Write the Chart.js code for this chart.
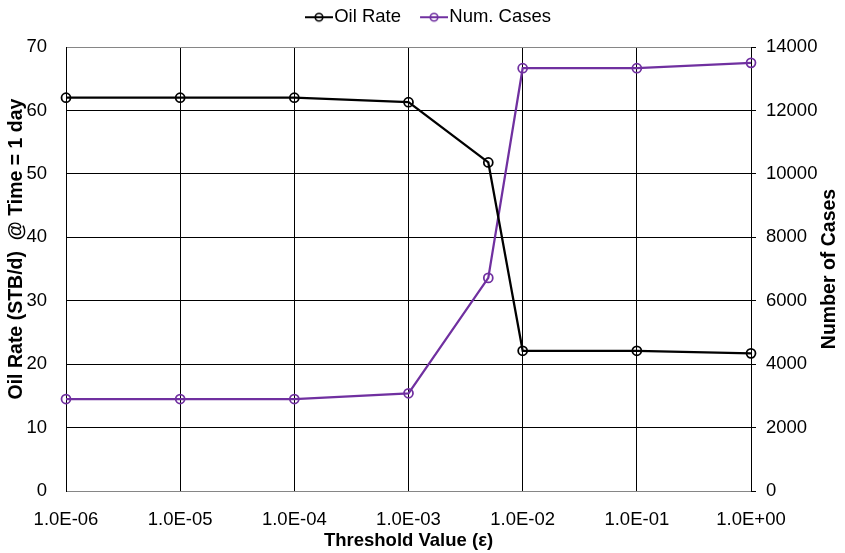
<!DOCTYPE html>
<html>
<head>
<meta charset="utf-8">
<script src="https://cdn.jsdelivr.net/npm/chart.js@4"></script>
<style>
  html, body { margin: 0; padding: 0; background: #fff; }
  canvas { display: block; }
</style>
</head>
<body>
<canvas id="chart-canvas" width="845" height="553"></canvas>
<script>
// threshold values (x) and the two series
const thresholds = [1e-6, 1e-5, 1e-4, 1e-3, 5e-3, 1e-2, 1e-1, 1]
const oilRate = [62, 62, 62, 61.3, 51.8, 22.1, 22.1, 21.7]
const numCases = [2900, 2900, 2900, 3080, 6720, 13330, 13330, 13500]

const xTickValues = [1e-6, 1e-5, 1e-4, 1e-3, 1e-2, 1e-1, 1]
const xTickLabels = ['1.0E-06', '1.0E-05', '1.0E-04', '1.0E-03', '1.0E-02', '1.0E-01', '1.0E+00']

const FONT = "'Liberation Sans', Arial, sans-serif"
const PURPLE = '#7030A0'
const GRAY = '#868686'
const TXT = 18.5

// little line + hollow circle icon for the legend
function legendIcon(color) {
  const c = document.createElement('canvas')
  c.width = 47
  c.height = 12
  const g = c.getContext('2d')
  g.strokeStyle = color
  g.lineWidth = 2
  g.beginPath()
  g.moveTo(19, 6)
  g.lineTo(47, 6)
  g.stroke()
  g.lineWidth = 1.6
  g.beginPath()
  g.arc(33, 6, 3.8, 0, Math.PI * 2)
  g.stroke()
  return c
}
const icons = [legendIcon('#000'), legendIcon(PURPLE)]

// legend gets a fixed band on top so the plot starts where it should
const legendBand = {
  id: 'legendBand',
  beforeLayout(chart) {
    const lg = chart.legend
    if (lg && !lg._banded) {
      const fit = lg.fit
      lg.fit = function () {
        fit.call(this)
        this.height = 47
      }
      lg._banded = true
    }
  }
}

// both value axis titles read bottom-to-top
function sideTitle(ctx, text, x, y) {
  ctx.save()
  ctx.fillStyle = '#000'
  ctx.font = 'bold 19.5px ' + FONT
  ctx.textAlign = 'center'
  ctx.textBaseline = 'middle'
  ctx.translate(x, y)
  ctx.rotate(-Math.PI / 2)
  ctx.fillText(text, 0, 0)
  ctx.restore()
}
const sideTitles = {
  id: 'sideTitles',
  afterDraw(chart) {
    sideTitle(chart.ctx, 'Oil Rate (STB/d)  @ Time = 1 day', 17, 249)
    sideTitle(chart.ctx, 'Number of Cases', 830, 269)
  }
}

const chartData = {
  datasets: [
    {
      label: 'Oil Rate',
      data: thresholds.map((t, i) => ({ x: t, y: oilRate[i] })),
      yAxisID: 'y',
      borderColor: '#000',
      backgroundColor: '#000',
      borderWidth: 2.25,
      pointRadius: 4.5,
      pointBorderWidth: 1.75,
      pointBackgroundColor: 'rgba(0,0,0,0)',
      pointBorderColor: '#000',
      clip: false
    },
    {
      label: 'Num. Cases',
      data: thresholds.map((t, i) => ({ x: t, y: numCases[i] })),
      yAxisID: 'y1',
      borderColor: PURPLE,
      backgroundColor: PURPLE,
      borderWidth: 2.25,
      pointRadius: 4.5,
      pointBorderWidth: 1.75,
      pointBackgroundColor: 'rgba(0,0,0,0)',
      pointBorderColor: PURPLE,
      clip: false
    }
  ]
}

const ctx = document.querySelector('#chart-canvas')
new Chart(ctx, {
  type: 'line',
  data: chartData,
  plugins: [legendBand, sideTitles],
  options: {
    responsive: false,
    animation: false,
    devicePixelRatio: 1,
    layout: { padding: 0 },
    plugins: {
      tooltip: { enabled: false },
      legend: {
        position: 'top',
        labels: {
          color: '#000',
          font: { family: FONT, size: TXT },
          usePointStyle: true,
          pointStyleWidth: 31,
          padding: 8,
          generateLabels(chart) {
            return Chart.defaults.plugins.legend.labels.generateLabels(chart)
              .map((l, i) => Object.assign(l, { pointStyle: icons[i] }))
          }
        }
      }
    },
    scales: {
      x: {
        type: 'logarithmic',
        position: 'bottom',
        min: 1e-6,
        max: 1,
        afterBuildTicks(scale) {
          scale.ticks = xTickValues.map(v => ({ value: v }))
        },
        afterFit(scale) {
          scale.height = 62
        },
        ticks: {
          color: '#000',
          font: { family: FONT, size: TXT },
          padding: 18,
          maxRotation: 0,
          autoSkip: false,
          callback: (value, index) => xTickLabels[index]
        },
        grid: { color: '#000', lineWidth: 1, drawTicks: false },
        border: { color: GRAY, width: 1 },
        title: {
          display: true,
          text: 'Threshold Value (ε)',
          color: '#000',
          font: { family: FONT, size: TXT, weight: 'bold' },
          padding: { top: 2, bottom: 1 }
        }
      },
      y: {
        position: 'left',
        min: 0,
        max: 70,
        afterFit(scale) {
          scale.width = 66
        },
        ticks: {
          stepSize: 10,
          color: '#000',
          font: { family: FONT, size: TXT },
          padding: 19,
          callback: v => String(v)
        },
        grid: {
          drawTicks: false,
          lineWidth: 1,
          color: c => (c.tick && (c.tick.value === 70 || c.tick.value === 0)) ? GRAY : '#000'
        },
        border: { color: '#000', width: 1 }
      },
      y1: {
        position: 'right',
        min: 0,
        max: 14000,
        afterFit(scale) {
          scale.width = 94
        },
        ticks: {
          stepSize: 2000,
          color: '#000',
          font: { family: FONT, size: TXT },
          padding: 10,
          callback: v => String(v)
        },
        grid: {
          drawOnChartArea: false,
          drawTicks: true,
          tickLength: 5,
          color: '#000',
          lineWidth: 1
        },
        border: { color: '#000', width: 1 }
      }
    }
  }
})
</script>
</body>
</html>
